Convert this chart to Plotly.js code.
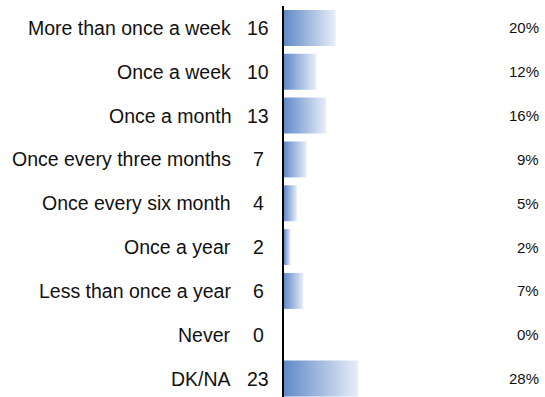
<!DOCTYPE html>
<html>
<head>
<meta charset="utf-8">
<script src="https://cdn.plot.ly/plotly-3.0.1.min.js"></script>
<style>html,body{margin:0;padding:0;background:#fff;}#chart{width:545px;height:397px;}</style>
</head>
<body>
<div id="chart"></div>
<script>
const categories = ["More than once a week","Once a week","Once a month","Once every three months","Once every six month","Once a year","Less than once a year","Never","DK/NA"];
const counts = [16, 10, 13, 7, 4, 2, 6, 0, 23];
const percentLabels = ["20%","12%","16%","9%","5%","2%","7%","0%","28%"];

const W = 545, H = 397;
const marginL = 284, marginR = 0, marginT = 6, marginB = 0;
const plotW = W - marginL - marginR;
const xMax = 80.8;
const half = 0.41;
const font = "Liberation Sans, Arial, Helvetica, sans-serif";

const traces = counts.map((v, i) => ({
  type: 'scatter', mode: 'lines',
  x: [0, v, v, 0, 0],
  y: [i - half, i - half, i + half, i + half, i - half],
  fill: 'toself',
  fillgradient: {type: 'horizontal', colorscale: [[0, '#6189c7'], [1, '#e8eef8']]},
  line: {width: 0, color: 'rgba(0,0,0,0)'},
  hoverinfo: 'skip', showlegend: false
}));

const annotations = [];
const px = p => (p - marginL) / plotW;
categories.forEach((c, i) => {
  annotations.push({xref: 'paper', yref: 'y', x: px(233), y: i, text: c, showarrow: false, xanchor: 'right', yanchor: 'middle', font: {family: font, size: 19.5, color: '#111'}});
  annotations.push({xref: 'paper', yref: 'y', x: px(258), y: i, text: String(counts[i]), showarrow: false, xanchor: 'center', yanchor: 'middle', font: {family: font, size: 19.5, color: '#111'}});
  annotations.push({xref: 'paper', yref: 'y', x: px(541), y: i, text: percentLabels[i], showarrow: false, xanchor: 'right', yanchor: 'middle', font: {family: font, size: 15, color: '#111'}});
});

const layout = {
  width: W, height: H,
  margin: {l: marginL, r: marginR, t: marginT, b: marginB, pad: 0},
  paper_bgcolor: '#fff', plot_bgcolor: '#fff',
  showlegend: false,
  xaxis: {range: [0, xMax], showgrid: false, zeroline: false, showticklabels: false, ticks: '', showline: false, fixedrange: true},
  yaxis: {range: [8.42, -0.5], showgrid: false, zeroline: false, showticklabels: false, ticks: '', showline: true, linecolor: '#000', linewidth: 2, fixedrange: true},
  annotations: annotations
};

Plotly.newPlot('chart', traces, layout, {displayModeBar: false, staticPlot: true});
</script>
</body>
</html>
